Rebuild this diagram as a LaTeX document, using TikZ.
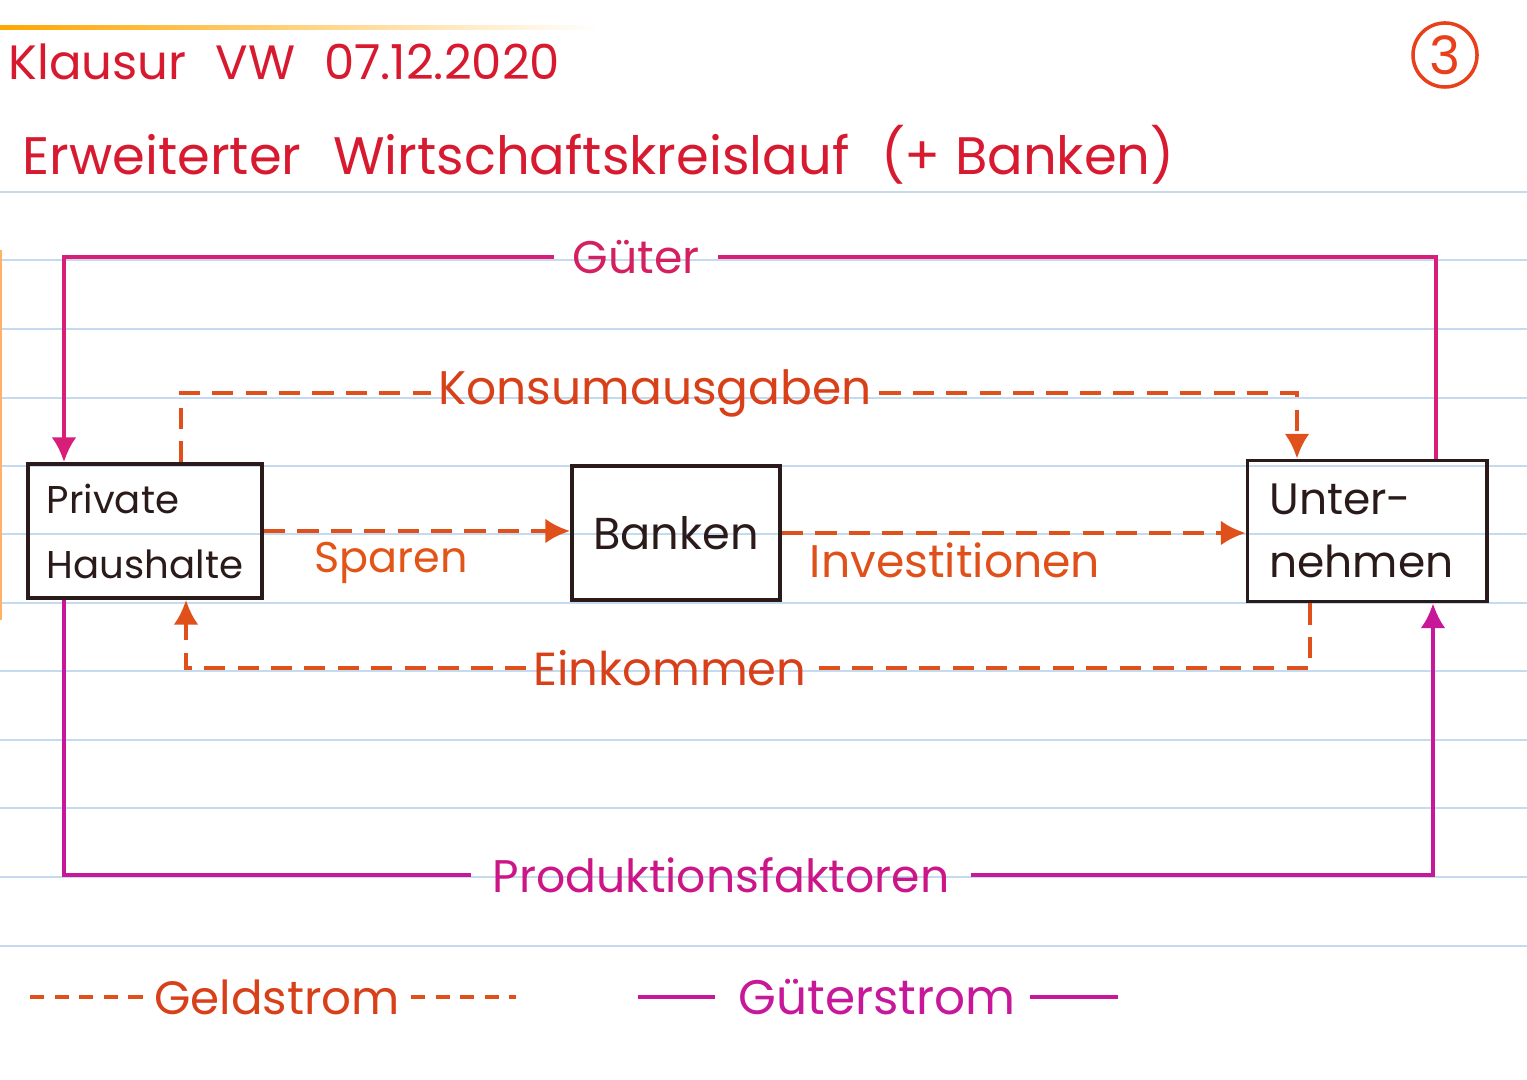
\documentclass[tikz,border=0pt]{standalone}
\usepackage{fontspec}
\setmainfont{Poppins}
\usetikzlibrary{arrows.meta,calc}
\definecolor{titlered}{HTML}{D81A30}
\definecolor{circred}{HTML}{E8401A}
\definecolor{gutline}{HTML}{D81E78}
\definecolor{prodline}{HTML}{C8189A}
\definecolor{gutlabel}{HTML}{D42060}
\definecolor{prodlabel}{HTML}{CC1688}
\definecolor{geld}{HTML}{E0501A}
\definecolor{geldlabel}{HTML}{D8401A}
\definecolor{boxc}{HTML}{2A1A1A}
\definecolor{ruled}{HTML}{C4DAEE}
\begin{document}
\begin{tikzpicture}[x=0.01cm,y=-0.01cm,
  box/.style={draw=boxc,line width=1.1pt,text=boxc,inner sep=0pt},
  gline/.style={draw=gutline,line width=1pt},
  pline/.style={draw=prodline,line width=1pt},
  dline/.style={draw=geld,line width=1pt,dash pattern=on 6pt off 3.5pt},
  ldash/.style={draw=geld,line width=1pt,dash pattern=on 4pt off 3pt},
  tip/.style={-{Latex[length=7pt,width=7pt]}},
  lbl/.style={inner sep=2pt,font=\fontsize{13}{15}\selectfont}]
% background
\fill[white] (0,0) rectangle (1527,1080);
\useasboundingbox (0,0) rectangle (1527,1080);
\foreach \yy in {192,260,329,398,466,534,603,671,740,808,877,946}
  \draw[ruled,line width=0.55pt] (0,\yy) -- (1527,\yy);
\shade[left color=orange!70!yellow,right color=white] (0,26) rectangle (600,30);
\draw[orange!60,line width=0.8pt] (1,250) -- (1,620);
% title
\node[anchor=west,text=titlered,font=\fontsize{13.7}{16}\selectfont,inner sep=0pt] (t1) at (8,62) {Klausur\hspace{0.6em}VW\hspace{0.6em}07.12.2020};
\node[anchor=west,text=titlered,font=\fontsize{15}{18}\selectfont,inner sep=0pt] (t2) at (22,155) {Erweiterter\hspace{0.6em}Wirtschaftskreislauf\hspace{0.6em}(+ Banken)};
\node[draw=circred,line width=1pt,circle,minimum size=0.64cm,inner sep=0pt,text=circred,font=\fontsize{15}{17}\selectfont] (pg) at (1445,55) {3};
% boxes
\node[box,minimum width=2.34cm,minimum height=1.34cm,align=left,text width=1.96cm,inner xsep=0.19cm,font=\fontsize{11}{18.5}\selectfont] (ph) at (145,531) {Private\\Haushalte};
\node[box,minimum width=2.08cm,minimum height=1.34cm,font=\fontsize{12.7}{15}\selectfont] (bk) at (676,533) {Banken};
\node[box,minimum width=2.39cm,minimum height=1.41cm,align=left,text width=1.95cm,inner xsep=0.22cm,font=\fontsize{12.5}{18}\selectfont] (un) at (1367,531) {Unter-\\nehmen};
% labels
\node[lbl,text=gutlabel,inner xsep=5pt] (gut) at (636,257) {Güter};
\node[lbl,text=geldlabel,font=\fontsize{13.4}{16}\selectfont] (kons) at (655,393) {Konsumausgaben};
\node[lbl,text=geld!90!orange,font=\fontsize{12.2}{15}\selectfont] (spar) at (391,563) {Sparen};
\node[lbl,text=geld] (inv) at (955,560) {Investitionen};
\node[lbl,text=geldlabel,font=\fontsize{13.2}{16}\selectfont] (eink) at (670,668) {Einkommen};
\node[lbl,text=prodlabel,inner xsep=6pt] (prod) at (721,875) {Produktionsfaktoren};
% helper coordinates
\coordinate (gR) at (1436,0);
\coordinate (gL) at (64,0);
\coordinate (pL) at (64,0);
\coordinate (pR) at (1433,0);
\coordinate (kL) at (181,0);
\coordinate (kR) at (1297,0);
\coordinate (eR) at (1310,0);
\coordinate (eL) at (186,0);
% Güter
\draw[gline] (un.north -| gR) |- (gut.east);
\draw[gline,tip] (gut.west) -| (ph.north -| gL);
% Produktionsfaktoren
\draw[pline] (ph.south -| pL) |- (prod.west);
\draw[pline,tip] (prod.east) -| (un.south -| pR);
% Konsumausgaben
\draw[dline] (ph.north -| kL) |- (kons.west);
\draw[dline,tip] (kons.east) -| (un.north -| kR);
% Sparen, Investitionen
\draw[dline,tip] (ph.east) -- (bk.west |- ph.east);
\draw[dline,tip] (bk.east) -- (un.west |- bk.east);
% Einkommen
\draw[dline] (un.south -| eR) |- (eink.east);
\draw[dline,tip] (eink.west) -| (ph.south -| eL);
% legend
\node[lbl,text=geldlabel,font=\fontsize{13.3}{16}\selectfont,inner xsep=3pt] (geldl) at (277,997) {Geldstrom};
\node[lbl,text=prodline,font=\fontsize{13.8}{16}\selectfont] (gutl) at (877,997) {Güterstrom};
\coordinate (lg1) at (30,997);
\coordinate (lg2) at (516,997);
\coordinate (lp1) at (638,997);
\coordinate (lp2) at (715,997);
\coordinate (lp3) at (1030,997);
\coordinate (lp4) at (1118,997);
\draw[ldash] (lg1) -- (geldl.west);
\draw[ldash] (geldl.east) -- (lg2);
\draw[pline] (lp1) -- (lp2);
\draw[pline] (lp3) -- (lp4);
\end{tikzpicture}
\end{document}
